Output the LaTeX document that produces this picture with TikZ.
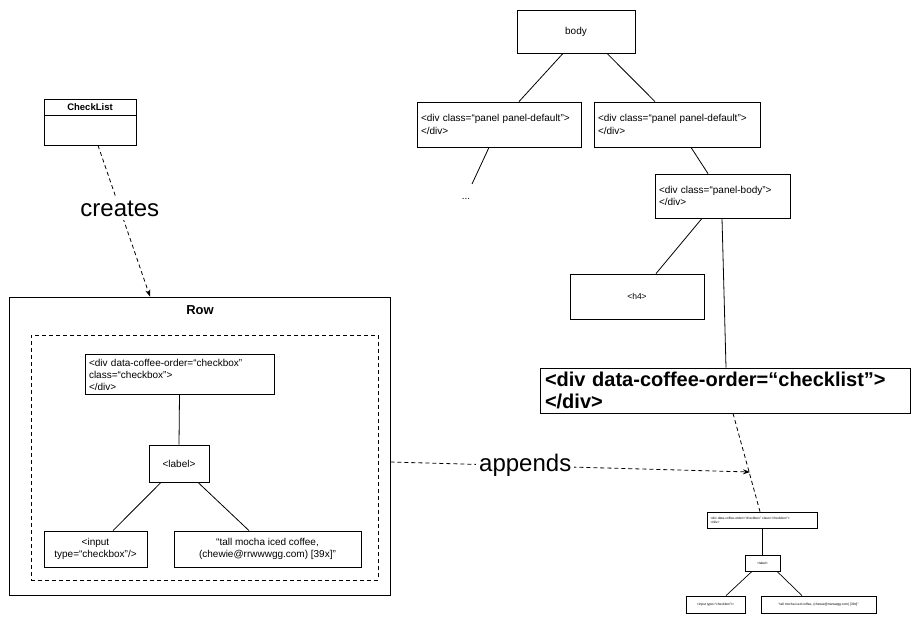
\documentclass[tikz,border=0pt]{standalone}
\usepackage{fontspec}
\setmainfont{Liberation Sans}
\usetikzlibrary{arrows.meta}
\begin{document}
\begin{tikzpicture}[x=1pt,y=-1pt,
  box/.style={draw=black, line width=0.8pt, inner sep=4pt, font=\fontsize{10}{12.5}\selectfont},
  lbox/.style={box, align=left},
  cbox/.style={box, align=center},
  tiny/.style={draw=black, line width=0.7pt, inner sep=2pt, font=\fontsize{3.3}{4}\selectfont},
  conn/.style={draw=black, line width=0.8pt},
  dconn/.style={draw=black, line width=0.8pt, dash pattern=on 4pt off 3pt},
  tip/.style={-{Stealth[length=7pt,width=5pt]}},
  biglabel/.style={fill=white, inner sep=3pt, font=\fontsize{24}{28}\selectfont}]
\useasboundingbox (0,0) rectangle (920,624);
\fill[white] (0,0) rectangle (920,624);

% --- Right tree ---
\node[cbox, minimum width=118pt, minimum height=43pt] (body) at (576,31.5) {body};
\node[lbox, text width=156pt, minimum height=45pt] (p1) at (499,124.5) {<div class=“panel panel-default”>\\</div>};
\node[lbox, text width=158pt, minimum height=45pt] (p2) at (677,124.5) {<div class=“panel panel-default”>\\</div>};
\node[font=\fontsize{10}{12}\selectfont] (dots) at (466,199) {...};
\coordinate (dotsend) at (472,184);
\node[lbox, text width=127pt, minimum height=44pt] (pb) at (722.5,196) {<div class=“panel-body”>\\</div>};
\node[cbox, minimum width=134pt, minimum height=45pt, font=\fontsize{8.5}{10}\selectfont] (h4) at (637,296.5) {<h4>};
\node[lbox, text width=360pt, minimum height=45pt, inner xsep=5pt, font=\fontsize{20}{22}\bfseries\selectfont] (cl) at (725,390.5) {<div data-coffee-order=“checklist”>\\</div>};

\node[tiny, minimum width=110pt, minimum height=16pt, text width=104pt, align=left] (sd) at (762.5,520) {<div data-coffee-order=“checkbox” class=“checkbox”>\\</div>};
\node[tiny, minimum width=35pt, minimum height=16pt, align=center] (sl) at (762.5,563) {<label>};
\node[tiny, minimum width=59pt, minimum height=17pt, align=center] (si) at (715.5,604.5) {<input type=“checkbox”/>};
\node[tiny, minimum width=115pt, minimum height=17pt, align=center] (st) at (818.5,604.5) {“tall mocha iced coffee, (chewie@rrwwwgg.com) [39x]”};

\draw[conn] ([xshift=-13pt]body.south) -- ([xshift=20pt]p1.north);
\draw[conn] ([xshift=31pt]body.south) -- ([xshift=-22pt]p2.north);
\draw[conn] ([xshift=-10pt]p1.south) -- (dotsend);
\draw[conn] ([xshift=14pt]p2.south) -- ([xshift=-14.5pt]pb.north);
\draw[conn] ([xshift=-20.5pt]pb.south) -- ([xshift=19pt]h4.north);
\draw[conn] ([xshift=-0.5pt]pb.south) -- ([xshift=1pt]cl.north);
\draw[dconn] ([xshift=8pt]cl.south) -- ([xshift=-2.5pt]sd.north);
\draw[conn, line width=0.7pt] (sd.south) -- (sl.north);
\draw[conn, line width=0.7pt] ([xshift=-10.5pt]sl.south) -- ([xshift=10.5pt]si.north);
\draw[conn, line width=0.7pt] ([xshift=14.5pt]sl.south) -- ([xshift=-16.5pt]st.north);

% --- Left side ---
\node[draw=black, line width=0.8pt, minimum width=92pt, minimum height=46pt] (ckl) at (90,122) {};
\draw[conn] (44,115) -- (136,115);
\node[font=\fontsize{9.5}{11}\bfseries\selectfont] (ckltitle) at (90,107) {CheckList};

\node[draw=black, line width=0.8pt, minimum width=381pt, minimum height=298pt] (row) at (199.5,446) {};
\node[font=\fontsize{13}{15}\bfseries\selectfont] (rowtitle) at (200,310) {Row};
\node[draw=black, line width=0.8pt, dash pattern=on 4pt off 3pt, minimum width=347pt, minimum height=245pt] (inner) at (204.5,457.5) {};

\node[lbox, text width=181pt, minimum height=35pt, font=\fontsize{10}{12}\selectfont] (d) at (179.5,374.5) {<div data-coffee-order=“checkbox”\\class=“checkbox”>\\</div>};
\node[cbox, minimum width=60pt, minimum height=37pt] (lab) at (179,463.5) {<label>};
\node[cbox, minimum width=103pt, minimum height=36pt] (inp) at (95.5,549) {<input\\type=“checkbox”/>};
\node[cbox, minimum width=187pt, minimum height=36pt] (txt) at (267.5,549) {“tall mocha iced coffee,\\(chewie@rrwwwgg.com) [39x]”};

\draw[conn] (d.south) -- (lab.north);
\draw[conn] ([xshift=-18pt]lab.south) -- ([xshift=17.5pt]inp.north);
\draw[conn] ([xshift=19pt]lab.south) -- ([xshift=-18.5pt]txt.north);

\draw[dconn, tip] ([xshift=8pt]ckl.south) -- node[biglabel, pos=0.42] (creates) {creates} ([xshift=-49.5pt]row.north);

\coordinate (appendend) at (750,472);
\draw[dconn, tip] ([yshift=-16pt]row.east) -- node[biglabel, pos=0.375] (appends) {appends} (appendend);
\end{tikzpicture}
\end{document}
